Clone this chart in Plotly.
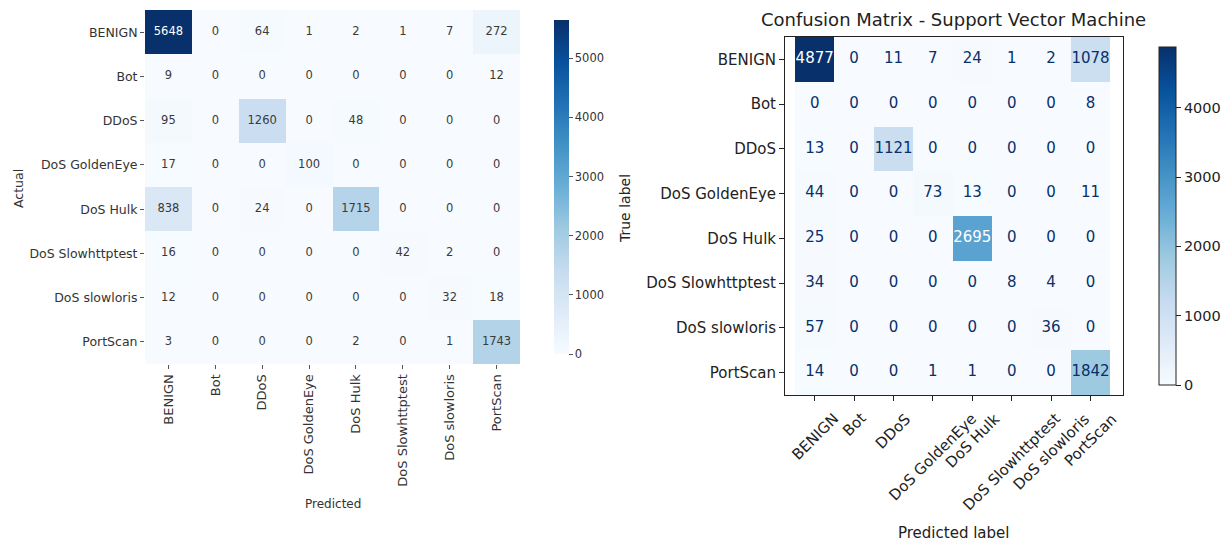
import plotly.graph_objects as go

classes = ["BENIGN", "Bot", "DDoS", "DoS GoldenEye", "DoS Hulk",
           "DoS Slowhttptest", "DoS slowloris", "PortScan"]

cm_left = [
    [5648, 0, 64, 1, 2, 1, 7, 272],
    [9, 0, 0, 0, 0, 0, 0, 12],
    [95, 0, 1260, 0, 48, 0, 0, 0],
    [17, 0, 0, 100, 0, 0, 0, 0],
    [838, 0, 24, 0, 1715, 0, 0, 0],
    [16, 0, 0, 0, 0, 42, 2, 0],
    [12, 0, 0, 0, 0, 0, 32, 18],
    [3, 0, 0, 0, 2, 0, 1, 1743],
]

cm_right = [
    [4877, 0, 11, 7, 24, 1, 2, 1078],
    [0, 0, 0, 0, 0, 0, 0, 8],
    [13, 0, 1121, 0, 0, 0, 0, 0],
    [44, 0, 0, 73, 13, 0, 0, 11],
    [25, 0, 0, 0, 2695, 0, 0, 0],
    [34, 0, 0, 0, 0, 8, 4, 0],
    [57, 0, 0, 0, 0, 0, 36, 0],
    [14, 0, 0, 1, 1, 0, 0, 1842],
]

title_right = "Confusion Matrix - Support Vector Machine"

FONT = "DejaVu Sans"
blues = [
    [0.0, "rgb(247,251,255)"], [0.125, "rgb(222,235,247)"], [0.25, "rgb(198,219,239)"],
    [0.375, "rgb(158,202,225)"], [0.5, "rgb(107,174,214)"], [0.625, "rgb(66,146,198)"],
    [0.75, "rgb(33,113,181)"], [0.875, "rgb(8,81,156)"], [1.0, "rgb(8,48,107)"],
]

W, H = 1229, 541
def px_x(v): return v / W
def px_y(v): return 1 - v / H

fig = go.Figure()

# Left heatmap (seaborn style)
maxL = max(max(r) for r in cm_left)
fig.add_trace(go.Heatmap(z=cm_left, x=classes, y=classes, coloraxis="coloraxis",
                         xaxis="x", yaxis="y", hoverinfo="skip"))
xs, ys, ts, cs = [], [], [], []
for i, row in enumerate(cm_left):
    for j, v in enumerate(row):
        xs.append(classes[j]); ys.append(classes[i]); ts.append(str(v))
        cs.append("white" if v > 0.6 * maxL else "#3a3a3a")
fig.add_trace(go.Scatter(x=xs, y=ys, text=ts, mode="text", xaxis="x", yaxis="y",
                         textfont=dict(color=cs, size=11.5, family=FONT),
                         hoverinfo="skip", showlegend=False))

# Right heatmap (sklearn style)
maxR = max(max(r) for r in cm_right)
fig.add_trace(go.Heatmap(z=cm_right, x=classes, y=classes, coloraxis="coloraxis2",
                         xaxis="x2", yaxis="y2", hoverinfo="skip"))
xs, ys, ts, cs = [], [], [], []
for i, row in enumerate(cm_right):
    for j, v in enumerate(row):
        xs.append(classes[j]); ys.append(classes[i]); ts.append(str(v))
        cs.append("white" if v > maxR / 2 else "rgb(8,48,107)")
fig.add_trace(go.Scatter(x=xs, y=ys, text=ts, mode="text", xaxis="x2", yaxis="y2",
                         textfont=dict(color=cs, size=15, family=FONT),
                         hoverinfo="skip", showlegend=False))

def label(text, x, y, size, color, angle=0):
    return dict(text=text, x=px_x(x), y=px_y(y), xref="paper", yref="paper",
                xanchor="center", yanchor="middle", textangle=angle,
                showarrow=False, font=dict(size=size, color=color))

annotations = [
    label("Actual", 18, 189, 12.5, "#333", -90),
    label("Predicted", 332.5, 504, 12, "#333"),
    label("True label", 625, 209, 14, "#222", -90),
    label("Predicted label", 954, 533, 15, "#222"),
    label(title_right, 953.5, 19, 18, "#222"),
]
# rotated (45°) tick labels of the right matrix, centred under each tick
for c in classes:
    annotations.append(dict(text=c, x=c, xref="x2", y=px_y(407), yref="paper",
                            xanchor="center", yanchor="top", textangle=-45,
                            showarrow=False, font=dict(size=15, color="#222")))

fig.update_layout(
    width=W, height=H,
    margin=dict(l=0, r=0, t=0, b=0, autoexpand=False),
    paper_bgcolor="white", plot_bgcolor="white",
    font=dict(family=FONT, color="#262626"),
    showlegend=False,
    coloraxis=dict(
        colorscale=blues, cmin=0, cmax=maxL,
        colorbar=dict(x=px_x(544), xanchor="left", y=px_y(10), yanchor="top",
                      len=354 / H, lenmode="fraction", thickness=15, outlinewidth=0,
                      tickvals=[0, 1000, 2000, 3000, 4000, 5000], ticks="outside",
                      ticklen=4, tickcolor="#555", tickfont=dict(size=11.5, color="#333", family=FONT)),
    ),
    coloraxis2=dict(
        colorscale=blues, cmin=0, cmax=maxR,
        colorbar=dict(x=px_x(1149), xanchor="left", y=px_y(37), yanchor="top",
                      len=358 / H, lenmode="fraction", thickness=17, outlinewidth=1,
                      outlinecolor="#222",
                      tickvals=[0, 1000, 2000, 3000, 4000], ticks="outside",
                      ticklen=5, tickcolor="#222", tickfont=dict(size=14.5, color="#222", family=FONT)),
    ),
    xaxis=dict(domain=[px_x(145), px_x(520)], type="category", categoryorder="array",
               categoryarray=classes, tickangle=-90, ticks="outside", ticklen=4,
               tickcolor="#555", tickfont=dict(size=13, color="#333"),
               showgrid=False, zeroline=False, showline=False, anchor="y", automargin=False),
    yaxis=dict(domain=[px_y(364), px_y(10)], type="category", categoryorder="array",
               categoryarray=classes, autorange="reversed", ticks="outside", ticklen=4,
               tickcolor="#555", tickfont=dict(size=12.5, color="#333"),
               showgrid=False, zeroline=False, showline=False, anchor="x", automargin=False),
    xaxis2=dict(domain=[px_x(785), px_x(1123)], type="category", categoryorder="array",
                categoryarray=classes, ticks="outside", ticklen=5, showticklabels=False,
                tickcolor="#222",
                showgrid=False, zeroline=False, showline=True, mirror=True,
                linecolor="#222", linewidth=1, anchor="y2", automargin=False),
    yaxis2=dict(domain=[px_y(395), px_y(37)], type="category", categoryorder="array",
                categoryarray=classes, autorange="reversed", ticks="outside", ticklen=5,
                tickcolor="#222", tickfont=dict(size=15, color="#222"),
                showgrid=False, zeroline=False, showline=True, mirror=True,
                linecolor="#222", linewidth=1, anchor="x2", automargin=False),
    annotations=annotations,
)

fig.write_html("out.html")
